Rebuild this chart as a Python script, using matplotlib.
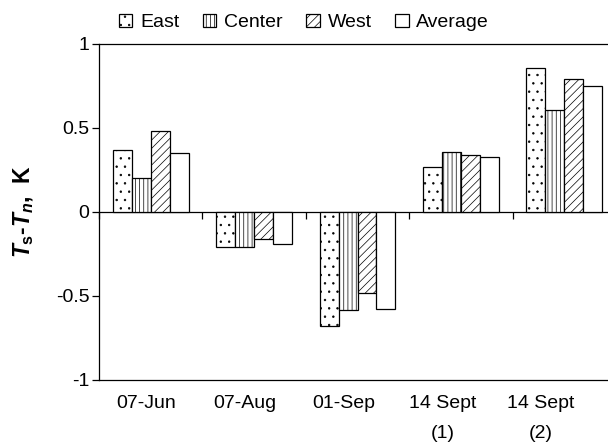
import matplotlib
matplotlib.use('Agg')
import matplotlib.pyplot as plt
import numpy as np

categories = ["07-Jun", "07-Aug", "01-Sep", "14 Sept\n(1)", "14 Sept\n(2)"]
series_names = ["East", "Center", "West", "Average"]
east = [0.37, -0.21, -0.68, 0.27, 0.86]
center = [0.20, -0.21, -0.585, 0.36, 0.61]
west = [0.48, -0.16, -0.48, 0.34, 0.79]
average = [0.35, -0.19, -0.58, 0.325, 0.75]
y_ticks = [-1, -0.5, 0, 0.5, 1]
y_tick_labels = ["-1", "-0.5", "0", "0.5", "1"]

plt.rcParams['font.family'] = ['Liberation Sans', 'DejaVu Sans']
plt.rcParams['mathtext.fontset'] = 'custom'
plt.rcParams['mathtext.it'] = 'Liberation Sans:italic:bold'
plt.rcParams['mathtext.rm'] = 'Liberation Sans:bold'
plt.rcParams['mathtext.bf'] = 'Liberation Sans:bold'
plt.rcParams['hatch.linewidth'] = 0.5

FS = 14

fig = plt.figure(figsize=(6.08, 4.43), dpi=100)
ax = fig.add_axes([99 / 608, 63 / 443, 517 / 608, 336 / 443])

x = np.arange(len(categories))
w = 0.183
hatches = ['..', '||||', '////', '']
series = [east, center, west, average]
for i, (name, vals, h) in enumerate(zip(series_names, series, hatches)):
    ax.bar(x + (i - 1.5) * w, vals, w, color='white', edgecolor='black',
           hatch=h, linewidth=0.9, label=name, zorder=1)

ax.set_xlim(-0.5, len(categories) - 0.5)
ax.set_ylim(-1, 1)
ax.set_yticks(y_ticks)
ax.set_yticklabels(y_tick_labels, fontsize=FS)
ax.tick_params(axis='y', direction='out', length=5, width=0.9, pad=2)

# category labels along the bottom line
label_pos = x * 0.955 - 0.045
ax.set_xticks(label_pos)
ax.set_xticklabels(categories, fontsize=FS, linespacing=2.0)
ax.tick_params(axis='x', length=0, pad=11)

for s in ['left', 'top', 'bottom']:
    ax.spines[s].set_linewidth(0.9)
ax.spines['right'].set_visible(False)

# zero line with group separator ticks
sec = ax.secondary_xaxis(0.5)
sec.set_alignment('bottom')
sec.set_xticks(np.arange(len(categories) + 1) - 0.5)
sec.tick_params(axis='x', direction='out', length=5, width=0.9, labelbottom=False, labeltop=False)
sec.spines['bottom'].set_linewidth(0.9)

ax.set_ylabel(r'$T_{\mathrm{s}}$-$T_n$,  K', fontsize=16.5, fontweight='bold')
ax.yaxis.set_label_coords(-0.122, 0.5)

fig.legend(loc='upper center', bbox_to_anchor=(0.5, 1.0), ncol=4, frameon=False,
           fontsize=FS, handlelength=0.7, handleheight=0.7, handletextpad=0.4,
           columnspacing=1.2, borderaxespad=0.3)

fig.savefig('out.png', dpi=100)
